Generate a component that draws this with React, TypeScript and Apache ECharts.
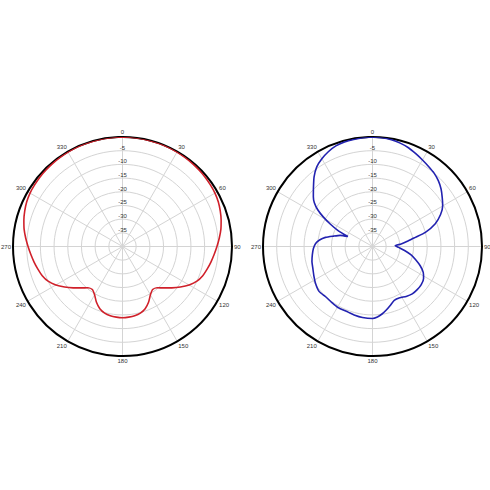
import React, { useEffect, useRef } from 'react';
import * as echarts from 'echarts';

// measured pattern, angle in degrees (clockwise from top) and gain in dB
const redAngles = [
  0, 5, 10, 15, 20, 25, 30, 35, 40, 45, 50, 55, 60, 65, 70, 75, 80, 85, 90, 95,
  100, 105, 110, 115, 120, 125, 130, 135, 140, 145, 150, 155, 160, 165, 170, 175,
  180, 185, 190, 195, 200, 205, 210, 215, 220, 225, 230, 235, 240, 245, 250, 255,
  260, 265, 270, 275, 280, 285, 290, 295, 300, 305, 310, 315, 320, 325, 330, 335,
  340, 345, 350, 355, 360
];
const redGain = [
  0, 0, -0.05, -0.1, -0.1, -0.15, -0.2, -0.3, -0.4, -0.5, -0.6, -0.8, -1.0, -1.4,
  -2.0, -2.7, -3.5, -4.5, -5.5, -6.4, -7.2, -8.0, -8.8, -10.0, -11.9, -14.2, -16.5,
  -18.6, -20.3, -20.8, -19.6, -17.5, -15.8, -14.8, -14.3, -14.1, -14.0, -14.1, -14.3,
  -14.8, -15.8, -17.5, -19.6, -20.8, -20.3, -18.6, -16.5, -14.2, -11.9, -10.0, -8.8,
  -8.0, -7.2, -6.4, -5.5, -4.5, -3.5, -2.7, -2.0, -1.4, -1.0, -0.8, -0.6, -0.5, -0.4,
  -0.3, -0.2, -0.15, -0.1, -0.1, -0.05, 0, 0
];

const blueAngles = [
  0, 5, 10, 15, 20, 25, 30, 35, 40, 45, 50, 55, 60, 65, 70, 75, 78, 81, 85, 88,
  92, 97, 102, 107, 112, 117, 122, 128, 134, 140, 146, 152, 158, 163, 168, 172,
  176, 180, 188, 195, 200, 210, 216, 223, 230, 237, 243, 250, 256, 262, 268, 273,
  277, 281, 285, 289, 292, 295, 298, 301, 304, 307, 310, 315, 320, 325, 330, 335,
  340, 345, 350, 355, 360
];
const blueGain = [
  0, -0.1, -0.4, -0.9, -1.6, -2.6, -3.5, -4.3, -5.0, -6.0, -7.3, -8.9, -10.4, -12.6,
  -15.6, -20.0, -24.0, -26.7, -29.5, -31.7, -30.5, -28.2, -25.7, -23.5, -21.2, -19.2,
  -18.0, -17.4, -17.3, -17.4, -18.0, -18.8, -18.8, -17.6, -16.2, -15.1, -14.2, -13.7,
  -13.8, -14.1, -14.4, -14.4, -14.7, -14.9, -14.5, -15.2, -16.0, -16.8, -17.2, -17.8,
  -18.4, -19.2, -20.5, -22.5, -25.3, -27.5, -30.3, -26.0, -22.5, -19.0, -15.8, -13.4,
  -11.8, -9.5, -6.8, -4.5, -3.0, -1.8, -0.9, -0.5, -0.3, -0.1, 0
];

const radiusMin = -40;
const radiusMax = 0;
const radiusStep = 5;
const angleStep = 30;

const gridColor = '#d4d4d4';
const labelColor = '#333333';
const labelFont = 'Liberation Sans, Arial, sans-serif';

const toPairs = (angles: number[], gains: number[]) =>
  angles.map((a, i) => [gains[i], a]);

const makeAngleAxis = (polarIndex: number) => ({
  polarIndex,
  type: 'value',
  min: 0,
  max: 360,
  interval: angleStep,
  startAngle: 90,
  clockwise: true,
  axisLine: { show: true, lineStyle: { color: '#000000', width: 2 } },
  axisTick: { show: false },
  splitLine: { show: true, lineStyle: { color: gridColor, width: 1 } },
  axisLabel: {
    margin: 2,
    fontSize: 6,
    color: labelColor,
    fontFamily: labelFont,
    formatter: (v: number) => (v === 360 ? '' : String(v))
  }
});

const makeRadiusAxis = (polarIndex: number) => ({
  polarIndex,
  type: 'value',
  min: radiusMin,
  max: radiusMax,
  interval: radiusStep,
  axisLine: { show: false },
  axisTick: { show: false },
  splitLine: { show: true, lineStyle: { color: gridColor, width: 1 } },
  axisLabel: {
    margin: 0,
    fontSize: 6,
    color: labelColor,
    fontFamily: labelFont,
    align: 'center',
    verticalAlign: 'bottom',
    formatter: (v: number) => (v === radiusMin || v === radiusMax ? '' : String(v))
  }
});

const App: React.FC = () => {
  const chartRef = useRef<HTMLDivElement>(null);

  useEffect(() => {
    if (!chartRef.current) return;
    const chart = echarts.init(chartRef.current, null, { renderer: 'svg' });

    chart.setOption({
      animation: false,
      backgroundColor: '#ffffff',
      polar: [
        { center: [122.5, 246.5], radius: 109.5 },
        { center: [372.5, 246.5], radius: 109.5 }
      ],
      angleAxis: [makeAngleAxis(0), makeAngleAxis(1)],
      radiusAxis: [makeRadiusAxis(0), makeRadiusAxis(1)],
      series: [
        {
          name: 'Pattern A',
          type: 'line',
          coordinateSystem: 'polar',
          polarIndex: 0,
          showSymbol: false,
          smooth: 0.2,
          silent: true,
          lineStyle: { color: '#d0202a', width: 1.6 },
          data: toPairs(redAngles, redGain)
        },
        {
          name: 'Pattern B',
          type: 'line',
          coordinateSystem: 'polar',
          polarIndex: 1,
          showSymbol: false,
          smooth: 0.2,
          silent: true,
          lineStyle: { color: '#2222b0', width: 1.6 },
          data: toPairs(blueAngles, blueGain)
        }
      ]
    });

    return () => {
      chart.dispose();
    };
  }, []);

  return (
    <div
      ref={chartRef}
      style={{ position: 'fixed', left: 0, top: 0, width: 490, height: 490 }}
    />
  );
};

export default App;
